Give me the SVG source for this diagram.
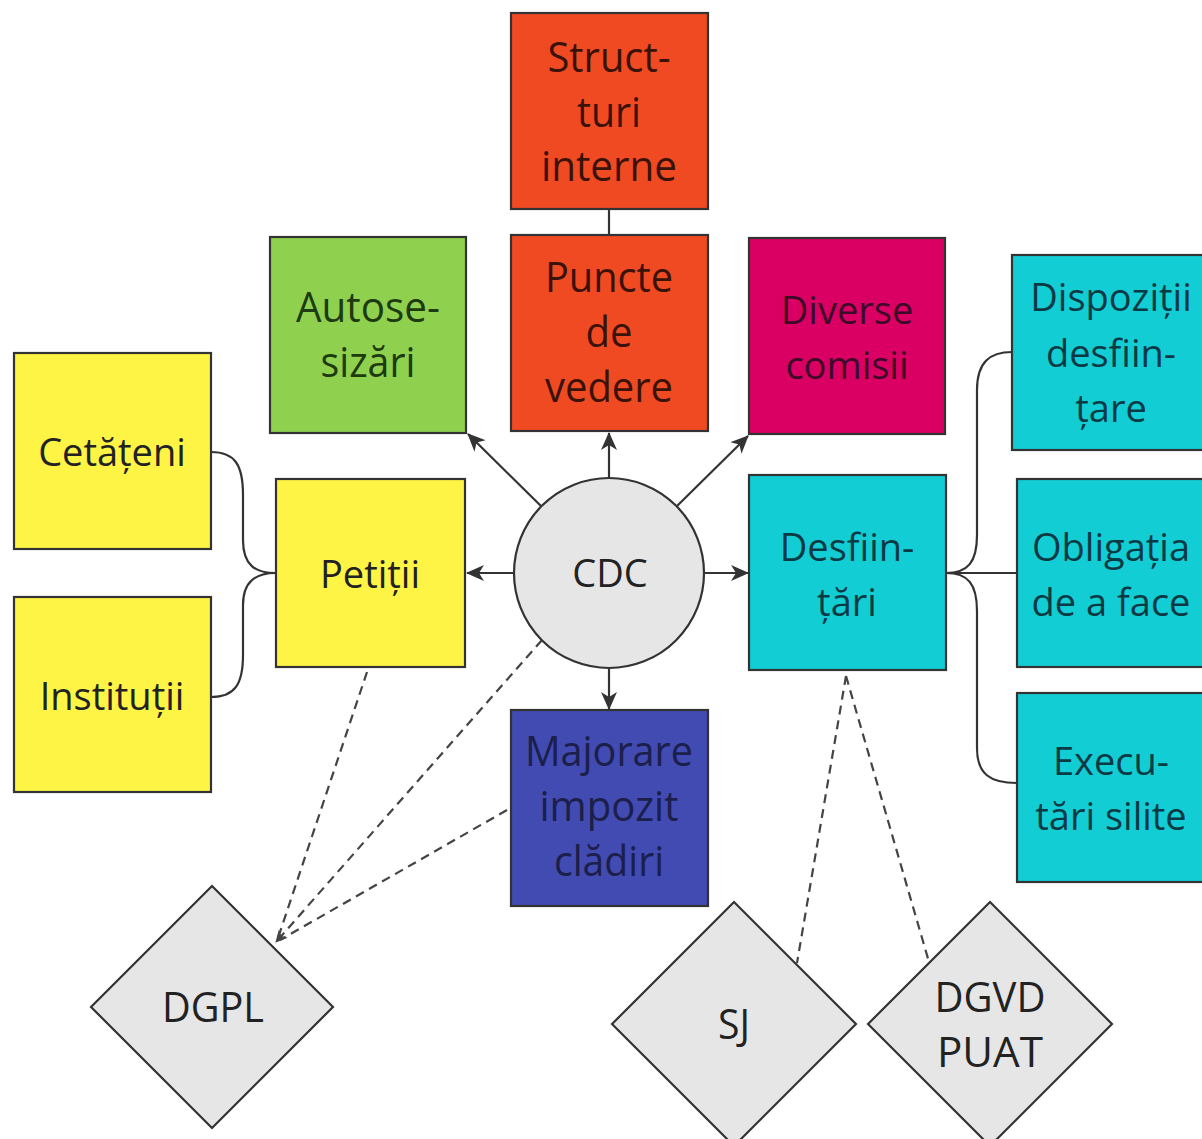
<svg xmlns="http://www.w3.org/2000/svg" width="1202" height="1139" viewBox="0 0 1202 1139">
<defs>
<style>
.box{stroke:#333;stroke-width:2.2}
.t{font-family:"Open Sans","Noto Sans","DejaVu Sans",sans-serif;font-size:38px;text-anchor:middle}
.c{font-size:42px}
.con{fill:none;stroke:#333;stroke-width:2.2}
.dash{fill:none;stroke:#444;stroke-width:2.2;stroke-dasharray:9 6}
</style>
<marker id="ah" viewBox="0 0 18 18" refX="17" refY="9" markerWidth="18" markerHeight="18" markerUnits="userSpaceOnUse" orient="auto">
<path d="M0,1 L18,9 L0,17 L5,9 z" fill="#333"/>
</marker>
<marker id="ahs" viewBox="0 0 12 12" refX="11" refY="6" markerWidth="12" markerHeight="12" markerUnits="userSpaceOnUse" orient="auto">
<path d="M0,0 L12,6 L0,12 L3,6 z" fill="#444"/>
</marker>
</defs>
<rect width="1202" height="1139" fill="#fff"/>

<g id="connectors">
<line class="con" x1="609" y1="209" x2="609" y2="235"/>
<line class="con" x1="541" y1="506" x2="468" y2="434" marker-end="url(#ah)"/>
<line class="con" x1="609" y1="478" x2="609" y2="433" marker-end="url(#ah)"/>
<line class="con" x1="677" y1="506" x2="748" y2="436" marker-end="url(#ah)"/>
<line class="con" x1="514" y1="573" x2="467" y2="573" marker-end="url(#ah)"/>
<line class="con" x1="704" y1="573" x2="748" y2="573" marker-end="url(#ah)"/>
<line class="con" x1="609" y1="668" x2="609" y2="709" marker-end="url(#ah)"/>
<path class="con" d="M211,452 C235,452 243,465 243,495 L243,540 C243,565 255,573 276,573"/>
<path class="con" d="M211,697 C235,697 243,684 243,655 L243,605 C243,582 255,573 276,573"/>
<path class="con" d="M946,573 C968,573 977,562 977,535 L977,390 C977,362 990,352 1012,352"/>
<path class="con" d="M946,573 L1017,573"/>
<path class="con" d="M946,573 C968,573 977,584 977,611 L977,748 C977,774 990,783 1017,783"/>
<line class="dash" x1="367" y1="672" x2="278" y2="938"/>
<line class="dash" x1="542" y1="640" x2="276" y2="942" marker-end="url(#ahs)"/>
<line class="dash" x1="507" y1="810" x2="280" y2="940"/>
<line class="dash" x1="846" y1="676" x2="797" y2="963"/>
<line class="dash" x1="846" y1="676" x2="929" y2="962"/>
</g>

<g id="structuri-interne">
<rect class="box" x="511" y="13" width="197" height="196" fill="#f04a23"/>
<text class="t c" fill="#3a1208"><tspan x="609" y="72" textLength="123" lengthAdjust="spacingAndGlyphs">Struct-</tspan><tspan x="609" y="127" textLength="64" lengthAdjust="spacingAndGlyphs">turi</tspan><tspan x="609" y="181" textLength="136" lengthAdjust="spacingAndGlyphs">interne</tspan></text>
</g>
<g id="puncte-de-vedere">
<rect class="box" x="511" y="235" width="197" height="196" fill="#f04a23"/>
<text class="t c" fill="#3a1208"><tspan x="609" y="292" textLength="128" lengthAdjust="spacingAndGlyphs">Puncte</tspan><tspan x="609" y="347" textLength="47" lengthAdjust="spacingAndGlyphs">de</tspan><tspan x="609" y="402" textLength="128" lengthAdjust="spacingAndGlyphs">vedere</tspan></text>
</g>
<g id="autosesizari">
<rect class="box" x="270" y="237" width="196" height="196" fill="#8fd14f"/>
<text class="t c" fill="#1e3a10"><tspan x="368" y="322" textLength="144" lengthAdjust="spacingAndGlyphs">Autose-</tspan><tspan x="368" y="377" textLength="95" lengthAdjust="spacingAndGlyphs">sizări</tspan></text>
</g>
<g id="diverse-comisii">
<rect class="box" x="749" y="238" width="196" height="196" fill="#da0063"/>
<text class="t" fill="#3d0a28"><tspan x="847" y="324">Diverse</tspan><tspan x="847" y="379">comisii</tspan></text>
</g>
<g id="cetateni">
<rect class="box" x="14" y="353" width="197" height="196" fill="#fef445"/>
<text class="t" fill="#222" x="112" y="466">Cetățeni</text>
</g>
<g id="institutii">
<rect class="box" x="14" y="597" width="197" height="195" fill="#fef445"/>
<text class="t" fill="#222" x="112" y="710">Instituții</text>
</g>
<g id="petitii">
<rect class="box" x="276" y="479" width="189" height="188" fill="#fef445"/>
<text class="t" fill="#222" x="370" y="588">Petiții</text>
</g>
<g id="cdc">
<circle class="box" cx="609" cy="573" r="95" fill="#e6e6e6"/>
<text class="t" fill="#222" x="610" y="587">CDC</text>
</g>
<g id="desfiintari">
<rect class="box" x="749" y="475" width="197" height="195" fill="#12cdd4"/>
<text class="t" fill="#0c3a44"><tspan x="847" y="561">Desfiin-</tspan><tspan x="847" y="616">țări</tspan></text>
</g>
<g id="dispozitii">
<rect class="box" x="1012" y="255" width="200" height="195" fill="#12cdd4"/>
<text class="t" fill="#0c3a44"><tspan x="1111" y="311">Dispoziții</tspan><tspan x="1111" y="367">desfiin-</tspan><tspan x="1111" y="422">țare</tspan></text>
</g>
<g id="obligatia">
<rect class="box" x="1017" y="479" width="195" height="188" fill="#12cdd4"/>
<text class="t" fill="#0c3a44"><tspan x="1111" y="561">Obligația</tspan><tspan x="1111" y="616">de a face</tspan></text>
</g>
<g id="executari">
<rect class="box" x="1017" y="693" width="195" height="189" fill="#12cdd4"/>
<text class="t" fill="#0c3a44"><tspan x="1111" y="775">Execu-</tspan><tspan x="1111" y="830">tări silite</tspan></text>
</g>
<g id="majorare">
<rect class="box" x="511" y="710" width="197" height="196" fill="#414bb2"/>
<text class="t c" fill="#1b1f4a"><tspan x="609" y="766" textLength="168" lengthAdjust="spacingAndGlyphs">Majorare</tspan><tspan x="609" y="821" textLength="139" lengthAdjust="spacingAndGlyphs">impozit</tspan><tspan x="609" y="876" textLength="110" lengthAdjust="spacingAndGlyphs">clădiri</tspan></text>
</g>
<g id="dgpl">
<polygon class="box" points="212,886 333,1007 212,1128 91,1007" fill="#e6e6e6"/>
<text class="t c" fill="#222"><tspan x="213" y="1022" textLength="102" lengthAdjust="spacingAndGlyphs">DGPL</tspan></text>
</g>
<g id="sj">
<polygon class="box" points="734,902 856,1024 734,1146 612,1024" fill="#e6e6e6"/>
<text class="t c" fill="#222"><tspan x="734" y="1039" textLength="32" lengthAdjust="spacingAndGlyphs">SJ</tspan></text>
</g>
<g id="dgvd-puat">
<polygon class="box" points="990,902 1112,1024 990,1146 868,1024" fill="#e6e6e6"/>
<text class="t c" fill="#222"><tspan x="990" y="1012" textLength="111" lengthAdjust="spacingAndGlyphs">DGVD</tspan><tspan x="990" y="1067" textLength="106" lengthAdjust="spacingAndGlyphs">PUAT</tspan></text>
</g>
</svg>
